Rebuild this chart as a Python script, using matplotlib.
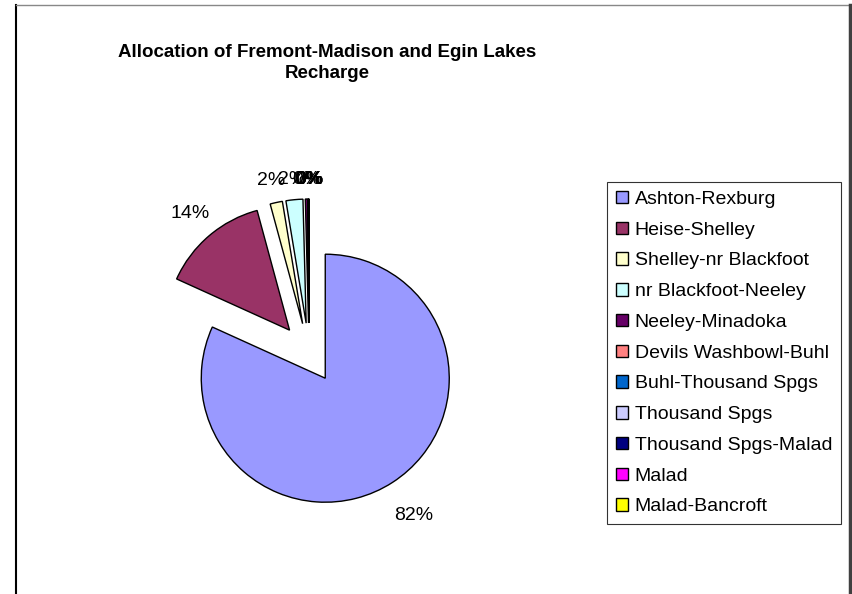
import matplotlib.pyplot as plt
import numpy as np
from matplotlib.lines import Line2D

plt.rcParams['font.family'] = ['Liberation Sans', 'DejaVu Sans']

reaches = ["Ashton-Rexburg", "Heise-Shelley", "Shelley-nr Blackfoot", "nr Blackfoot-Neeley",
           "Neeley-Minadoka", "Devils Washbowl-Buhl", "Buhl-Thousand Spgs", "Thousand Spgs",
           "Thousand Spgs-Malad", "Malad", "Malad-Bancroft"]
shares = [81.7, 14.0, 1.6, 2.2, 0.3, 0.05, 0.03, 0.02, 0.01, 0.0, 0.0]
colors = ["#9999FF", "#993366", "#FFFFCC", "#CCFFFF", "#660066", "#FF8080",
          "#0066CC", "#CCCCFF", "#000080", "#FF00FF", "#FFFF00"]
title = "Allocation of Fremont-Madison and Egin Lakes\nRecharge"

# layout (pixels, figure is 852x594)
W, H = 852, 594
center = (309, H - 353)
radius = 124
explode = 30  # matplotlib explode is in data units here
label_dist = [1.32, 1.24, 1.18, 1.16, 1.16, 1.16, 1.16, 1.16, 1.16, 1.16, 1.16]

fig = plt.figure(figsize=(W / 100, H / 100), dpi=100)
ax = fig.add_axes([0, 0, 1, 1])

wedges, texts, pcts = ax.pie(shares, colors=colors, startangle=90, counterclock=False,
                             center=center, radius=radius, explode=[explode] * len(shares),
                             autopct='%1.0f%%', pctdistance=1.2,
                             wedgeprops=dict(edgecolor='black', linewidth=1.0),
                             textprops=dict(fontsize=14, color='black'))
ax.set_xlim(0, W)
ax.set_ylim(0, H)
ax.axis('off')

for w, t, d in zip(wedges, pcts, label_dist):
    th = np.deg2rad((w.theta1 + w.theta2) / 2)
    dx, dy = np.cos(th), np.sin(th)
    t.set_position((center[0] + explode * dx + d * radius * dx,
                    center[1] + explode * dy + d * radius * dy))
    t.set_ha('center')
    t.set_va('center')

fig.text(327 / W, 1 - 63 / H, title, ha='center', va='center', fontsize=13.5,
         fontweight='bold', linespacing=1.35)

leg = fig.legend(wedges, reaches, loc='upper left', bbox_to_anchor=(607 / W, 1 - 182 / H),
                 fontsize=14, frameon=True, fancybox=False, handlelength=0.62,
                 handleheight=0.62, handletextpad=0.35, labelspacing=0.7, borderpad=0.45,
                 borderaxespad=0)
leg.get_frame().set_edgecolor('black')
leg.get_frame().set_linewidth(0.8)

# chart area border (open at the bottom)
fig.add_artist(Line2D([16 / W, 16 / W], [0, 1 - 5 / H], color='black', lw=1.5))
fig.add_artist(Line2D([16 / W, 849 / W], [1 - 5 / H, 1 - 5 / H], color='#888888', lw=1.0))
fig.add_artist(Line2D([850 / W, 850 / W], [0, 1 - 5 / H], color='#404040', lw=2.5))

fig.savefig('out.png', dpi=100)
